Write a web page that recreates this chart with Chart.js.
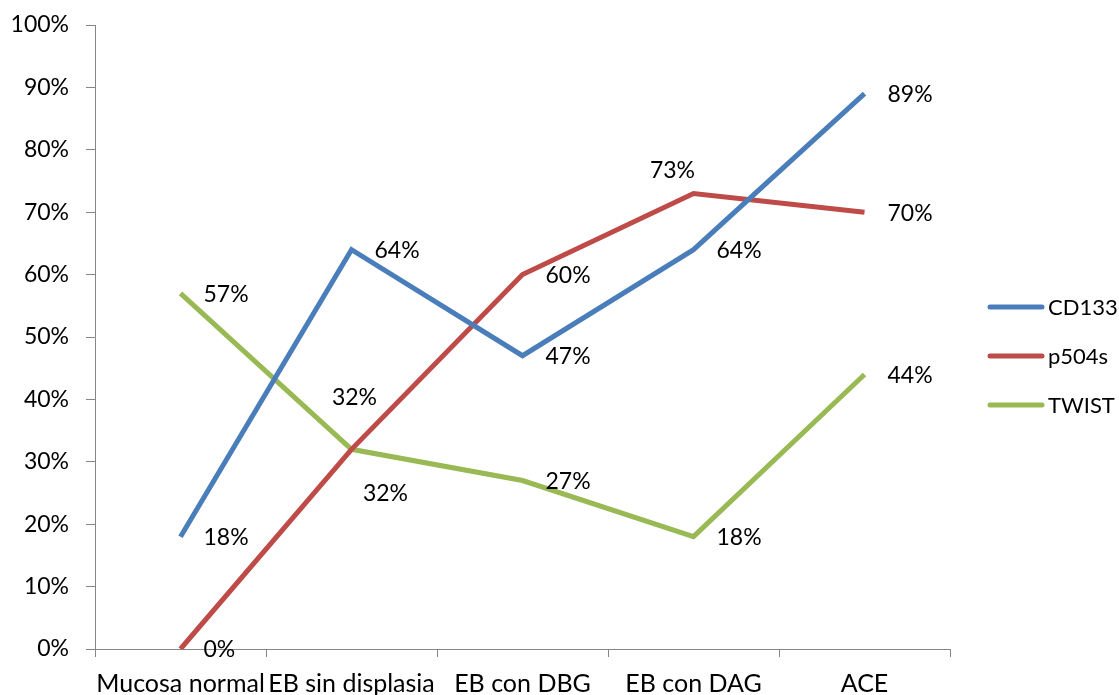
<!DOCTYPE html>
<html>
<head>
<meta charset="utf-8">
<script src="https://cdn.jsdelivr.net/npm/chart.js@4"></script>
<style>
  html, body { margin: 0; padding: 0; background: #fff; }
  #wrap { width: 1119px; height: 695px; position: relative; }
</style>
</head>
<body>
<div id="wrap"><canvas id="c"></canvas></div>
<script>
// Categories along the x axis
const categories = ['Mucosa normal', 'EB sin displasia', 'EB con DBG', 'EB con DAG', 'ACE'];

// Percentage of positive cases per marker
const cd133 = [18, 64, 47, 64, 89];
const p504s = [0, 32, 60, 73, 70];
const twist = [57, 32, 27, 18, 44];

const seriesNames = ['CD133', 'p504s', 'TWIST'];
const seriesColors = ['#4A7EBB', '#BE4B48', '#98B954'];

const FONT = 'Lato, "Open Sans", sans-serif';

// Value labels: default to the right of the point; a few are moved to avoid overlaps
const labelPlacement = {
  p504s: [null, 'above', null, 'aboveLeft', null],
  TWIST: [null, 'belowRight', null, null, null]
};

const valueLabels = {
  id: 'valueLabels',
  afterDatasetsDraw(chart) {
    const ctx = chart.ctx;
    ctx.save();
    ctx.font = '23px ' + FONT;
    ctx.fillStyle = '#000';
    ctx.textBaseline = 'middle';
    chart.data.datasets.forEach((ds, i) => {
      const meta = chart.getDatasetMeta(i);
      const places = labelPlacement[ds.label] || [];
      meta.data.forEach((pt, j) => {
        const txt = ds.data[j] + '%';
        const p = places[j];
        let x = pt.x, y = pt.y;
        if (p === 'above') { ctx.textAlign = 'center'; x += 3; y -= 52; }
        else if (p === 'aboveLeft') { ctx.textAlign = 'center'; x -= 21; y -= 23; }
        else if (p === 'belowRight') { ctx.textAlign = 'center'; x += 34; y += 44; }
        else { ctx.textAlign = 'left'; x += 23; y += 1; }
        ctx.fillText(txt, x, y);
      });
    });
    ctx.restore();
  }
};

// Legend on the right: short line sample and series name
const sideLegend = {
  id: 'sideLegend',
  afterDraw(chart) {
    const ctx = chart.ctx;
    ctx.save();
    ctx.font = '22px ' + FONT;
    ctx.textBaseline = 'middle';
    ctx.textAlign = 'left';
    const ys = [307, 356, 405];
    chart.data.datasets.forEach((ds, i) => {
      ctx.strokeStyle = ds.borderColor;
      ctx.lineWidth = 5;
      ctx.lineCap = 'round';
      ctx.beginPath();
      ctx.moveTo(990, ys[i]);
      ctx.lineTo(1042, ys[i]);
      ctx.stroke();
      ctx.fillStyle = '#000';
      ctx.fillText(ds.label, 1048, ys[i] + 1);
    });
    ctx.restore();
  }
};

const seriesData = [cd133, p504s, twist];

new Chart(document.getElementById('c'), {
  type: 'line',
  data: {
    labels: categories,
    datasets: seriesData.map((d, i) => ({
      label: seriesNames[i],
      data: d,
      borderColor: seriesColors[i],
      backgroundColor: seriesColors[i],
      borderWidth: 5,
      pointRadius: 0,
      tension: 0,
      fill: false
    }))
  },
  options: {
    responsive: true,
    maintainAspectRatio: false,
    animation: false,
    layout: { padding: { left: 0, right: 169, top: 25, bottom: 0 } },
    plugins: {
      legend: { display: false },
      tooltip: { enabled: false }
    },
    scales: {
      x: {
        type: 'category',
        offset: true,
        afterFit(scale) {
          scale.height = 46;
          scale.paddingLeft = 0;
          scale.paddingRight = 0;
        },
        grid: {
          offset: true,
          drawOnChartArea: false,
          drawTicks: true,
          tickLength: 8,
          color: '#868686'
        },
        border: { color: '#868686', width: 1 },
        ticks: {
          color: '#000',
          font: { size: 25, family: FONT },
          padding: 12,
          maxRotation: 0,
          autoSkip: false
        }
      },
      y: {
        min: 0,
        max: 100,
        afterFit(scale) {
          scale.width = 95;
          scale.paddingTop = 0;
          scale.paddingBottom = 0;
        },
        grid: {
          drawOnChartArea: false,
          drawTicks: true,
          tickLength: 9,
          color: '#868686'
        },
        border: { color: '#868686', width: 1 },
        ticks: {
          stepSize: 10,
          color: '#000',
          font: { size: 23, family: FONT },
          padding: 17,
          callback: v => v + '%'
        }
      }
    }
  },
  plugins: [valueLabels, sideLegend]
});
</script>
</body>
</html>
